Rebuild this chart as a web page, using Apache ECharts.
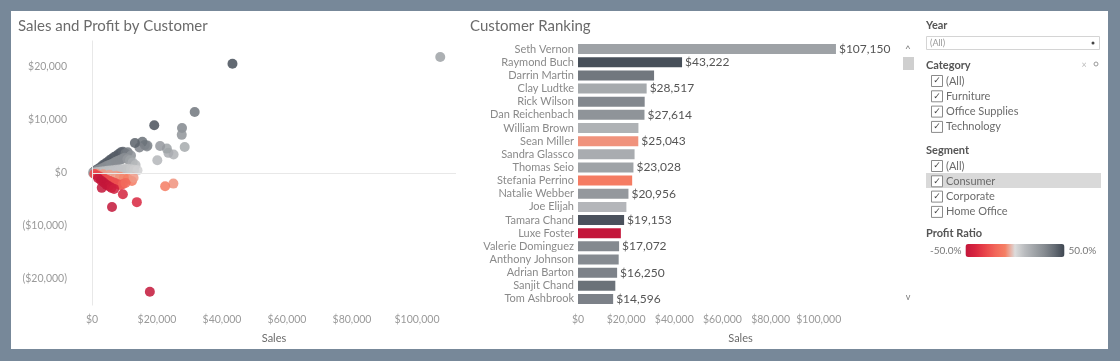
<!DOCTYPE html>
<html><head><meta charset="utf-8">
<script src="https://cdn.jsdelivr.net/npm/echarts@6/dist/echarts.min.js"></script>
<style>html,body{margin:0;padding:0;background:#778899;}#c{width:1120px;height:361px;}</style>
</head><body><div id="c"></div>
<script>
// Top 20 customers (ranking by sales)
const customers = ['Seth Vernon','Raymond Buch','Darrin Martin','Clay Ludtke','Rick Wilson','Dan Reichenbach','William Brown','Sean Miller','Sandra Glassco','Thomas Seio','Stefania Perrino','Natalie Webber','Joe Elijah','Tamara Chand','Luxe Foster','Valerie Dominguez','Anthony Johnson','Adrian Barton','Sanjit Chand','Tom Ashbrook'];
const customerSales = [107150,43222,31600,28517,27700,27614,25100,25043,23500,23028,22500,20956,20100,19153,17800,17072,16900,16250,15500,14596];
const customerProfit = [21900,20600,11500,4900,8500,7200,3500,-2000,3800,4600,-2500,5100,2400,9000,-22400,5200,5000,5300,5900,4800];
// Remaining customers (scatter cluster)
const otherSales = [600,1200,1900,2600,3300,4000,4700,5400,6100,6800,7500,8200,8900,9500,10300,11000,13200,12000,
 900,1700,2400,3100,3800,4500,5200,5900,6600,7300,8000,8700,9400,10100,10900,11700,12500,13400,
 300,1100,2000,2900,3800,4700,5600,6500,7400,8300,9200,10100,11000,12000,13000,14000,
 1400,3400,5400,7400,8600,9800,11000,12300,12800,
 700,1500,2300,3100,3900,4700,5500,6300,7100,7900,8700,9500,10300,
 1900,2800,3600,4400,5200,6000,6800,3000,
 9500,13800,6150];
const otherProfit = [250,500,800,1100,1450,1750,2050,2400,2700,3000,3250,3600,3900,4000,3700,3900,5660,3300,
 300,500,700,900,1100,1300,1500,1650,1850,2100,2300,2500,2700,2900,2600,2400,2000,1500,
 60,120,200,280,350,420,480,520,600,650,700,750,800,700,600,500,
 -120,-250,-350,-500,-700,-900,-1100,-1500,-900,
 -200,-450,-650,-900,-1100,-1300,-1500,-1700,-1900,-2100,-2300,-2100,-1900,
 -1000,-1400,-1800,-2200,-2500,-2800,-3000,-2800,
 -4000,-5500,-6400];
const categoryFilters = ['(All)','Furniture','Office Supplies','Technology'];
const segmentFilters = ['(All)','Consumer','Corporate','Home Office'];
const ratioColors = ['#c3163a','#d8263f','#e9454a','#f2665a','#f57f64','#dcdcdc','#b9bbbe','#9fa3a7','#858a90','#656c74','#3e4651'];

const clamp = r => Math.max(-0.5, Math.min(0.5, r));
const money = v => v < 0 ? '($' + Math.abs(v).toLocaleString('en-US') + ')' : '$' + v.toLocaleString('en-US');

const scatterData = customerSales.map((s,i)=>[s, customerProfit[i], clamp(customerProfit[i]/s)])
  .concat(otherSales.map((s,i)=>[s, otherProfit[i], clamp(otherProfit[i]/s)]));
const barData = customerSales.map((s,i)=>[s, customers[i], clamp(customerProfit[i]/s)]);

const FONT = 'Lato, "Open Sans", sans-serif';
const graphics = [
  {type:'rect', shape:{x:11,y:11,width:1097,height:338}, style:{fill:'#ffffff'}, z:-10},
  {type:'text', x:18, y:26, style:{text:'Sales and Profit by Customer', fill:'#6b6b6b', font:'15px '+FONT, textVerticalAlign:'middle'}},
  {type:'text', x:470, y:26, style:{text:'Customer Ranking', fill:'#6b6b6b', font:'15px '+FONT, textVerticalAlign:'middle'}},
  {type:'text', x:926, y:25, style:{text:'Year', fill:'#555', font:'bold 11px '+FONT, textVerticalAlign:'middle'}},
  {type:'rect', shape:{x:926.5,y:36.5,width:173,height:13}, style:{fill:'#fff', stroke:'#d4d4d4', lineWidth:1}},
  {type:'text', x:930, y:43, style:{text:'(All)', fill:'#999', font:'9px '+FONT, textVerticalAlign:'middle'}},
  {type:'circle', shape:{cx:1093,cy:43,r:1.5}, style:{fill:'#444'}},
  {type:'text', x:908, y:49, style:{text:'^', fill:'#777', font:'10px '+FONT, textAlign:'center', textVerticalAlign:'middle'}},
  {type:'rect', shape:{x:903,y:57,width:11,height:13}, style:{fill:'#cfcfcf'}},
  {type:'text', x:908, y:297, style:{text:'v', fill:'#777', font:'9px '+FONT, textAlign:'center', textVerticalAlign:'middle'}},
  {type:'text', x:926, y:65, style:{text:'Category', fill:'#555', font:'bold 11px '+FONT, textVerticalAlign:'middle'}},
  {type:'text', x:1084, y:65, style:{text:'×', fill:'#bbb', font:'9px '+FONT, textAlign:'center', textVerticalAlign:'middle'}},
  {type:'circle', shape:{cx:1096,cy:64,r:2}, style:{fill:'none', stroke:'#999', lineWidth:1}},
  {type:'text', x:926, y:150, style:{text:'Segment', fill:'#555', font:'bold 11px '+FONT, textVerticalAlign:'middle'}},
  {type:'rect', shape:{x:926,y:173,width:175,height:15}, style:{fill:'#d9d9d9'}},
  {type:'text', x:926, y:233, style:{text:'Profit Ratio', fill:'#555', font:'bold 11px '+FONT, textVerticalAlign:'middle'}}
];
function addChecks(list, y0){
  list.forEach((t,i)=>{
    const y = y0 + i*15.3;
    graphics.push({type:'rect', shape:{x:931.5,y:y-5.5,width:11,height:11}, style:{fill:'#fff', stroke:'#8a8a8a', lineWidth:1}});
    graphics.push({type:'text', x:937, y:y, style:{text:'✓', fill:'#444', font:'9px "DejaVu Sans"', textAlign:'center', textVerticalAlign:'middle'}});
    graphics.push({type:'text', x:946, y:y, style:{text:t, fill:'#6b6b6b', font:'11px '+FONT, textVerticalAlign:'middle'}});
  });
}
addChecks(categoryFilters, 81);
addChecks(segmentFilters, 166);

const chart = echarts.init(document.getElementById('c'));
chart.setOption({
  backgroundColor:'#778899',
  animation:false,
  textStyle:{fontFamily:FONT},
  graphic: graphics,
  grid:[
    {left:92, top:40.5, width:364, height:265},
    {left:578, top:42.5, width:325, height:263}
  ],
  xAxis:[
    {type:'value', gridIndex:0, min:0, max:112000, interval:20000,
     axisLine:{show:false}, axisTick:{show:false}, splitLine:{show:false},
     axisLabel:{formatter:money, color:'#9a9a9a', fontSize:10.5, margin:9, showMaxLabel:false},
     name:'Sales', nameLocation:'middle', nameGap:27, nameTextStyle:{color:'#6b6b6b', fontSize:11}},
    {type:'value', gridIndex:1, min:0, max:135000, interval:20000,
     axisLine:{show:false}, axisTick:{show:false}, splitLine:{show:false},
     axisLabel:{formatter:v => v <= 100000 ? money(v) : '', color:'#9a9a9a', fontSize:10.5, margin:9, showMaxLabel:false},
     name:'Sales', nameLocation:'middle', nameGap:27, nameTextStyle:{color:'#6b6b6b', fontSize:11}}
  ],
  yAxis:[
    {type:'value', gridIndex:0, min:-25000, max:25000, interval:5000,
     axisLine:{show:false}, axisTick:{show:false}, splitLine:{show:false},
     axisLabel:{formatter:v => v % 10000 === 0 ? money(v) : '', color:'#9a9a9a', fontSize:10.5, margin:25}},
    {type:'category', gridIndex:1, data:customers, inverse:true,
     axisLine:{show:false}, axisTick:{show:false},
     axisLabel:{color:'#8a8a8a', fontSize:11, margin:4, interval:0}}
  ],
  visualMap:{
    type:'continuous', min:-0.5, max:0.5, dimension:2, seriesIndex:[0,1],
    orient:'horizontal', left:930, top:244, padding:0, itemWidth:13, itemHeight:99,
    text:['50.0%','-50.0%'], textGap:4, calculable:false, hoverLink:false,
    textStyle:{color:'#777', fontSize:10},
    inRange:{color:ratioColors}
  },
  series:[
    {type:'scatter', xAxisIndex:0, yAxisIndex:0, data:scatterData, symbolSize:10,
     itemStyle:{opacity:0.85},
     markLine:{silent:true, symbol:'none', label:{show:false}, lineStyle:{color:'#e8e8e8', type:'solid', width:1},
       data:[{yAxis:0},{xAxis:0}]}},
    {type:'bar', xAxisIndex:1, yAxisIndex:1, data:barData, encode:{x:0, y:1}, barWidth:10,
     label:{show:true, position:'right', distance:3, color:'#555', fontSize:12,
       formatter:p => (p.dataIndex === 0 || p.dataIndex % 2 === 1) ? money(p.value[0]) : ''}}
  ]
});
</script></body></html>
